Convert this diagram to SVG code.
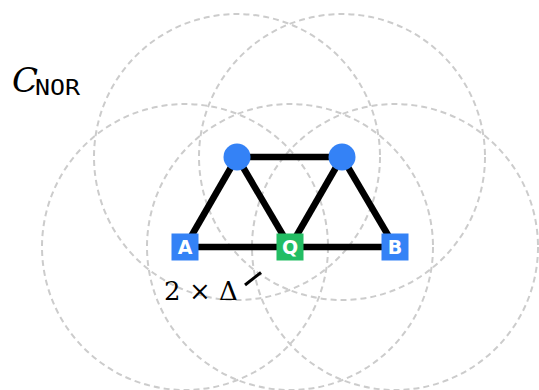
<svg xmlns="http://www.w3.org/2000/svg" width="539" height="390" viewBox="0 0 539 390">
<style>
.rng{fill:none;stroke:#cccccc;stroke-width:2;stroke-dasharray:6 4}
.edge{stroke:#000;stroke-width:6.5;stroke-linecap:butt}
.blue{fill:#3482f6}
.green{fill:#23bd63}
.lbl{font-family:"DejaVu Sans","Liberation Sans",Arial,sans-serif;font-weight:bold;font-size:19px;fill:#fff;text-anchor:middle}
.math{font-family:"DejaVu Serif","Liberation Serif",serif;fill:#000}
</style>
<g id="ranges">
<circle class="rng" cx="237" cy="157" r="143"/>
<circle class="rng" cx="342" cy="157" r="143"/>
<circle class="rng" cx="185" cy="247" r="143"/>
<circle class="rng" cx="290" cy="247" r="143"/>
<circle class="rng" cx="395" cy="247" r="143"/>
</g>
<g id="connectors">
<line class="edge" x1="185" y1="247" x2="237" y2="157"/>
<line class="edge" x1="237" y1="157" x2="290" y2="247"/>
<line class="edge" x1="290" y1="247" x2="342" y2="157"/>
<line class="edge" x1="342" y1="157" x2="395" y2="247"/>
<line class="edge" x1="237" y1="157" x2="342" y2="157"/>
<line class="edge" x1="185" y1="247" x2="395" y2="247"/>
</g>
<g id="node-top-left"><circle class="blue" cx="237" cy="157" r="13.5"/></g>
<g id="node-top-right"><circle class="blue" cx="342" cy="157" r="13.5"/></g>
<g id="node-A"><rect class="blue" x="171.5" y="233.5" width="27" height="27"/><text class="lbl" x="185" y="254">A</text></g>
<g id="node-Q"><rect class="green" x="276.5" y="233.5" width="27" height="27"/><text class="lbl" x="290" y="254">Q</text></g>
<g id="node-B"><rect class="blue" x="381.5" y="233.5" width="27" height="27"/><text class="lbl" x="395" y="254">B</text></g>
<g id="label-cnor">
<text class="math" x="12" y="92" font-size="34" font-style="italic">C</text>
<text x="35" y="95" font-family="DejaVu Sans Mono, monospace" font-size="21" textLength="45" lengthAdjust="spacingAndGlyphs">NOR</text>
</g>
<g id="label-delta">
<text class="math" font-size="26"><tspan x="164" y="300">2</tspan><tspan x="189" y="300">×</tspan><tspan x="219" y="300">Δ</tspan></text>
<line x1="245" y1="285" x2="261" y2="272.5" stroke="#000" stroke-width="3"/>
</g>
</svg>
